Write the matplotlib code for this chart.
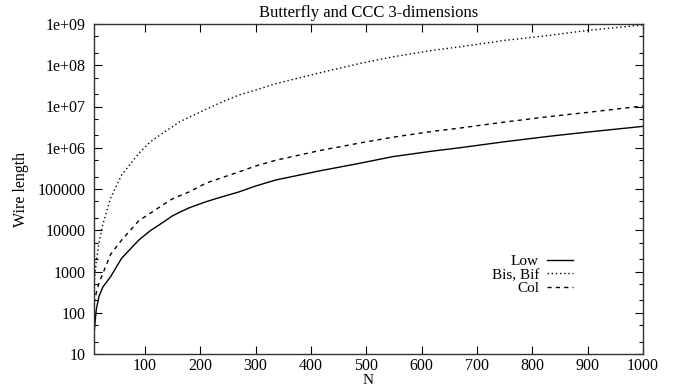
import numpy as np
import matplotlib
matplotlib.use('Agg')
import matplotlib.pyplot as plt
from matplotlib.ticker import LogLocator, NullFormatter

plt.rcParams['font.family'] = ['Liberation Serif', 'DejaVu Serif']

# values
n_vals = [8, 12, 17, 24, 38, 58, 89, 110, 131, 149, 162, 180, 210, 240,
          270, 300, 337, 415, 488, 548, 620, 669, 750, 831, 900, 1000]
low = [30, 117, 250, 420, 750, 2100, 5800, 9800, 15000, 22000, 27000, 35000,
       49000, 65000, 85000, 118000, 166000, 274000, 420000, 610000, 830000,
       1.0e6, 1.4e6, 1.9e6, 2.4e6, 3.3e6]
bis_bif = [500, 1700, 5000, 14000, 60000, 2.2e5, 7.3e5, 1.4e6, 2.2e6, 3.2e6,
           4.2e6, 5.5e6, 8.5e6, 1.3e7, 1.9e7, 2.5e7, 3.6e7, 6.5e7, 1.1e8,
           1.6e8, 2.3e8, 2.8e8, 4.0e8, 5.3e8, 7.0e8, 9.5e8]
col = [170, 300, 525, 900, 2600, 5800, 17000, 26000, 40000, 57000, 68000,
       85000, 138000, 190000, 260000, 360000, 500000, 850000, 1.3e6, 1.8e6,
       2.5e6, 3.0e6, 4.2e6, 5.7e6, 7.2e6, 1.03e7]

x_ticks = [100, 200, 300, 400, 500, 600, 700, 800, 900, 1000]
y_ticks = [10, 100, 1000, 10000, 100000, 1e6, 1e7, 1e8, 1e9]
y_labels = ['10', '100', '1000', '10000', '100000', '1e+06', '1e+07', '1e+08', '1e+09']

fig = plt.figure(figsize=(6.8, 3.88), dpi=100)
ax = fig.add_axes([94 / 680, 1 - 354 / 388, (643 - 94) / 680, (354 - 24) / 388])

ax.plot(n_vals, low, 'k-', lw=1.0, label='Low')
ax.plot(n_vals, bis_bif, 'k', linestyle=(0, (1, 2)), lw=1.0, label='Bis, Bif')
ax.plot(n_vals, col, 'k', linestyle=(0, (3, 3)), lw=1.0, label='Col')

ax.set_yscale('log')
ax.set_xlim(8, 1000)
ax.set_ylim(10, 1e9)
ax.set_xticks(x_ticks)
ax.set_yticks(y_ticks)
ax.set_yticklabels(y_labels)
ax.yaxis.set_minor_locator(LogLocator(base=10, subs=(2, 5)))
ax.yaxis.set_minor_formatter(NullFormatter())

ax.tick_params(which='both', direction='in', top=True, right=True, labelsize=11.5)
ax.tick_params(which='major', length=6, width=0.8)
ax.tick_params(which='minor', length=3, width=0.8)
ax.tick_params(axis='x', pad=3)
ax.tick_params(axis='y', pad=6)
for s in ax.spines.values():
    s.set_linewidth(1.0)
    s.set_color('#333333')

ax.set_title('Butterfly and CCC 3-dimensions', fontsize=12, pad=5)
ax.set_xlabel('N', fontsize=11, labelpad=0)
ax.set_ylabel('Wire length', fontsize=11.5, labelpad=6)

leg = ax.legend(loc='upper right', bbox_to_anchor=(0.887, 0.325), frameon=False,
                markerfirst=False, fontsize=11, handlelength=1.7,
                handletextpad=0.55, labelspacing=0.0, borderpad=0)
leg._legend_box.align = 'right'

fig.savefig('out.png', dpi=100)
